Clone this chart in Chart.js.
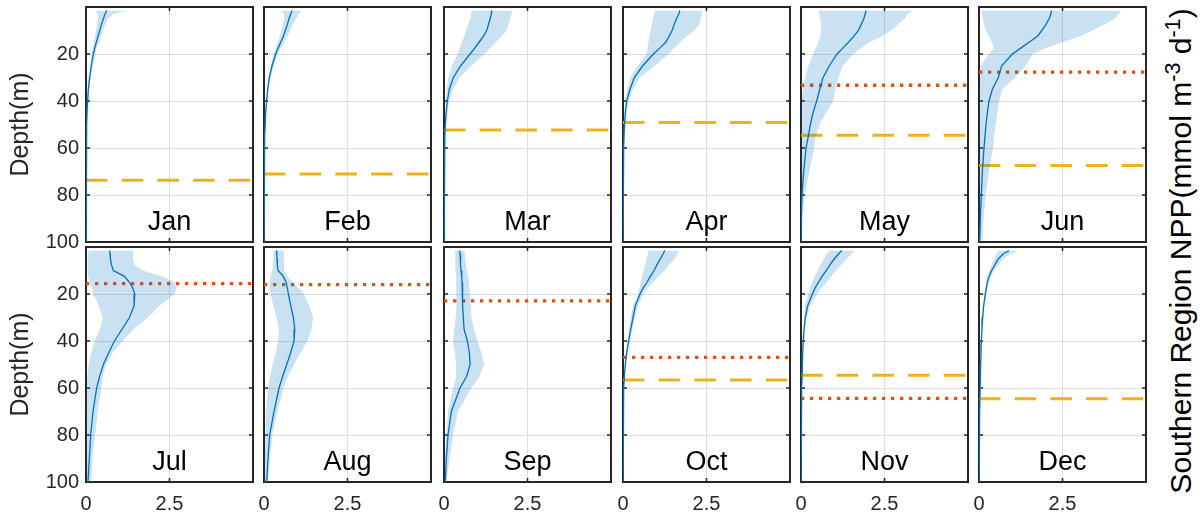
<!DOCTYPE html>
<html>
<head>
<meta charset="utf-8">
<script src="https://cdn.jsdelivr.net/npm/chart.js@4"></script>
<style>
  html, body { margin: 0; padding: 0; background: #fff; }
  #wrap { position: relative; width: 1204px; height: 520px; overflow: hidden; }
  #wrap canvas { position: absolute; }
  #rtitle {
    position: absolute; left: 1179px; top: 251px;
    transform: translate(-50%, -50%) rotate(-90deg);
    white-space: nowrap; font: 30px "Liberation Sans", Arial, sans-serif; color: #000;
  }
  #rtitle sup { font-size: 0.72em; }
</style>
</head>
<body>
<div id="wrap">
  <div id="rtitle">Southern Region NPP(mmol m<sup>-3</sup> d<sup>-1</sup>)</div>
</div>
<script>
const months = ['Jan', 'Feb', 'Mar', 'Apr', 'May', 'Jun', 'Jul', 'Aug', 'Sep', 'Oct', 'Nov', 'Dec'];
const depths = [1.5, 3, 5, 7.5, 10, 12.5, 15, 17.5, 20, 25, 30, 35, 40, 45, 50, 55, 60, 70, 80, 90, 100];

// mean profile and shaded range for each month (mmol m-3 d-1)
const janMean = [0.62, 0.57, 0.52, 0.46, 0.41, 0.36, 0.31, 0.26, 0.22, 0.16, 0.11, 0.07, 0.05, 0.03, 0.02, 0.015, 0.01, 0.005, 0.003, 0.002, 0.001];
const janLow  = [0.28, 0.36, 0.36, 0.33, 0.3, 0.27, 0.23, 0.2, 0.17, 0.12, 0.08, 0.05, 0.03, 0.02, 0.01, 0.008, 0.005, 0.002, 0.001, 0, 0];
const janHigh = [1.25, 0.82, 0.66, 0.57, 0.5, 0.45, 0.39, 0.32, 0.27, 0.2, 0.14, 0.1, 0.07, 0.045, 0.03, 0.02, 0.015, 0.008, 0.005, 0.003, 0.002];

const febMean = [0.84, 0.8, 0.75, 0.7, 0.64, 0.58, 0.5, 0.42, 0.35, 0.24, 0.16, 0.11, 0.08, 0.05, 0.035, 0.02, 0.012, 0.005, 0.002, 0.001, 0];
const febLow  = [0.5, 0.6, 0.6, 0.56, 0.52, 0.47, 0.41, 0.35, 0.29, 0.2, 0.13, 0.09, 0.06, 0.04, 0.025, 0.015, 0.008, 0.003, 0.001, 0, 0];
const febHigh = [1.12, 1.05, 0.95, 0.86, 0.78, 0.7, 0.6, 0.5, 0.42, 0.29, 0.2, 0.14, 0.1, 0.065, 0.045, 0.03, 0.018, 0.008, 0.004, 0.002, 0.001];

const marMean = [1.43, 1.42, 1.38, 1.33, 1.28, 1.18, 1.05, 0.92, 0.78, 0.5, 0.28, 0.16, 0.1, 0.065, 0.04, 0.025, 0.015, 0.007, 0.003, 0.001, 0];
const marLow  = [0.83, 0.8, 0.78, 0.72, 0.66, 0.6, 0.53, 0.47, 0.41, 0.24, 0.13, 0.08, 0.05, 0.03, 0.02, 0.01, 0.007, 0.003, 0.001, 0, 0];
const marHigh = [2.05, 2.02, 1.98, 1.93, 1.87, 1.72, 1.55, 1.38, 1.21, 0.82, 0.47, 0.28, 0.16, 0.1, 0.06, 0.04, 0.025, 0.012, 0.005, 0.002, 0.001];

const aprMean = [1.7, 1.67, 1.6, 1.53, 1.47, 1.38, 1.28, 1.1, 0.91, 0.59, 0.34, 0.21, 0.11, 0.07, 0.045, 0.03, 0.02, 0.008, 0.003, 0.001, 0];
const aprLow  = [0.96, 0.94, 0.9, 0.86, 0.82, 0.79, 0.76, 0.73, 0.7, 0.44, 0.22, 0.13, 0.07, 0.045, 0.03, 0.018, 0.01, 0.004, 0.001, 0, 0];
const aprHigh = [2.38, 2.36, 2.33, 2.28, 2.12, 1.9, 1.72, 1.53, 1.36, 0.95, 0.5, 0.3, 0.17, 0.11, 0.07, 0.045, 0.03, 0.012, 0.005, 0.002, 0.001];

const mayMean = [1.95, 1.92, 1.88, 1.8, 1.72, 1.58, 1.42, 1.25, 1.08, 0.85, 0.66, 0.56, 0.47, 0.36, 0.28, 0.22, 0.15, 0.08, 0.03, 0.01, 0.005];
const mayLow  = [0.52, 0.55, 0.58, 0.6, 0.62, 0.58, 0.52, 0.44, 0.37, 0.22, 0.12, 0.06, 0.02, 0.01, 0.005, 0, 0, 0, 0, 0, 0];
const mayHigh = [3.32, 3.2, 3.1, 2.9, 2.7, 2.4, 2.05, 1.8, 1.56, 1.25, 1.12, 1.03, 0.96, 0.75, 0.55, 0.44, 0.39, 0.25, 0.1, 0.05, 0.02];

const junMean = [2.17, 2.15, 2.1, 2.0, 1.88, 1.75, 1.5, 1.25, 1.0, 0.68, 0.58, 0.4, 0.3, 0.25, 0.21, 0.18, 0.15, 0.1, 0.07, 0.04, 0.02];
const junLow  = [0.05, 0.08, 0.12, 0.15, 0.2, 0.3, 0.38, 0.45, 0.3, 0.05, 0.03, 0.02, 0.01, 0.01, 0, 0, 0, 0, 0, 0, 0];
const junHigh = [4.24, 4.2, 4.05, 3.75, 3.4, 3.0, 2.5, 2.0, 1.6, 1.4, 1.08, 0.7, 0.6, 0.55, 0.5, 0.45, 0.42, 0.3, 0.2, 0.14, 0.1];

const julMean = [0.71, 0.72, 0.73, 0.76, 0.82, 1.15, 1.3, 1.4, 1.46, 1.44, 1.3, 1.08, 0.85, 0.68, 0.52, 0.41, 0.32, 0.21, 0.14, 0.1, 0.06];
const julLow  = [0.07, 0.06, 0.05, 0.05, 0.04, 0.06, 0.12, 0.18, 0.22, 0.38, 0.5, 0.42, 0.26, 0.15, 0.08, 0.04, 0.02, 0.01, 0.01, 0, 0];
const julHigh = [1.41, 1.41, 1.41, 1.45, 1.7, 2.3, 2.65, 2.72, 2.65, 2.2, 1.85, 1.42, 1.1, 0.8, 0.6, 0.5, 0.46, 0.35, 0.27, 0.2, 0.15];

const augMean = [0.38, 0.38, 0.39, 0.4, 0.42, 0.58, 0.66, 0.7, 0.73, 0.8, 0.88, 0.92, 0.9, 0.8, 0.68, 0.56, 0.45, 0.3, 0.17, 0.12, 0.08];
const augLow  = [0.28, 0.28, 0.27, 0.26, 0.24, 0.2, 0.16, 0.15, 0.2, 0.28, 0.38, 0.45, 0.42, 0.35, 0.26, 0.18, 0.12, 0.06, 0.04, 0.02, 0.01];
const augHigh = [0.6, 0.6, 0.6, 0.6, 0.62, 0.7, 0.85, 1.05, 1.2, 1.35, 1.47, 1.42, 1.3, 1.1, 0.9, 0.72, 0.58, 0.4, 0.25, 0.18, 0.12];

const sepMean = [0.47, 0.48, 0.49, 0.5, 0.51, 0.53, 0.54, 0.55, 0.56, 0.56, 0.58, 0.6, 0.7, 0.76, 0.78, 0.68, 0.48, 0.22, 0.12, 0.07, 0.04];
const sepLow  = [0.32, 0.33, 0.34, 0.35, 0.35, 0.36, 0.36, 0.37, 0.37, 0.37, 0.35, 0.3, 0.27, 0.33, 0.36, 0.37, 0.27, 0.12, 0.07, 0.03, 0.01];
const sepHigh = [0.62, 0.62, 0.64, 0.66, 0.68, 0.72, 0.75, 0.76, 0.78, 0.8, 0.82, 0.9, 1.0, 1.12, 1.2, 1.07, 0.82, 0.42, 0.27, 0.17, 0.07];

const octMean = [1.25, 1.2, 1.12, 1.02, 0.93, 0.82, 0.72, 0.6, 0.51, 0.37, 0.3, 0.23, 0.17, 0.11, 0.07, 0.04, 0.02, 0.01, 0.005, 0.002, 0.001];
const octLow  = [0.76, 0.74, 0.71, 0.66, 0.62, 0.57, 0.53, 0.49, 0.45, 0.3, 0.24, 0.18, 0.13, 0.08, 0.05, 0.03, 0.015, 0.007, 0.003, 0.001, 0];
const octHigh = [1.68, 1.62, 1.55, 1.38, 1.25, 1.05, 0.9, 0.72, 0.6, 0.45, 0.36, 0.28, 0.21, 0.14, 0.09, 0.05, 0.03, 0.012, 0.006, 0.003, 0.001];

const novMean = [1.22, 1.12, 1.0, 0.87, 0.76, 0.63, 0.52, 0.42, 0.34, 0.2, 0.13, 0.09, 0.07, 0.05, 0.04, 0.03, 0.02, 0.01, 0.005, 0.002, 0.001];
const novLow  = [0.85, 0.78, 0.68, 0.58, 0.5, 0.4, 0.33, 0.27, 0.22, 0.12, 0.08, 0.06, 0.045, 0.035, 0.025, 0.018, 0.012, 0.006, 0.003, 0.001, 0];
const novHigh = [1.6, 1.5, 1.38, 1.2, 1.05, 0.9, 0.77, 0.6, 0.48, 0.28, 0.18, 0.12, 0.09, 0.065, 0.05, 0.035, 0.025, 0.012, 0.006, 0.003, 0.001];

const decMean = [0.9, 0.72, 0.58, 0.48, 0.38, 0.3, 0.25, 0.22, 0.19, 0.14, 0.11, 0.09, 0.07, 0.06, 0.05, 0.04, 0.03, 0.02, 0.01, 0.005, 0.002];
const decLow  = [0.6, 0.52, 0.45, 0.38, 0.31, 0.25, 0.21, 0.18, 0.16, 0.12, 0.09, 0.075, 0.06, 0.05, 0.04, 0.03, 0.02, 0.015, 0.008, 0.004, 0.001];
const decHigh = [1.2, 0.95, 0.72, 0.58, 0.45, 0.36, 0.3, 0.26, 0.22, 0.16, 0.13, 0.1, 0.08, 0.065, 0.055, 0.045, 0.035, 0.022, 0.012, 0.006, 0.003];

// horizontal reference depths (m), null = not drawn
const dottedDepth = [null, null, null, null, 33.3, 27.7, 15.6, 16.0, 22.9, 47.0, 64.4, null];
const dashedDepth = [73.7, 71.1, 52.3, 49.1, 54.6, 67.4, null, null, null, 56.6, 54.6, 64.6];

const xTicks = [0, 2.5, 5];
const yTicks = [0, 20, 40, 60, 80, 100];

const profiles = [
  [janMean, janLow, janHigh], [febMean, febLow, febHigh], [marMean, marLow, marHigh],
  [aprMean, aprLow, aprHigh], [mayMean, mayLow, mayHigh], [junMean, junLow, junHigh],
  [julMean, julLow, julHigh], [augMean, augLow, augHigh], [sepMean, sepLow, sepHigh],
  [octMean, octLow, octHigh], [novMean, novLow, novHigh], [decMean, decLow, decHigh]
];

Chart.defaults.font.family = '"Liberation Sans", Arial, Helvetica, sans-serif';
Chart.defaults.color = '#262626';

// box, inner tick marks and the month name inside each panel
const panelDeco = {
  id: 'panelDeco',
  beforeDatasetsDraw(chart) {
    const { ctx, chartArea: a, scales: { x, y } } = chart;
    ctx.save();
    ctx.strokeStyle = '#262626';
    ctx.lineWidth = 1.5;
    ctx.beginPath();
    yTicks.slice(1, -1).forEach(v => {
      const py = y.getPixelForValue(v);
      ctx.moveTo(a.left, py); ctx.lineTo(a.left + 4, py);
      ctx.moveTo(a.right, py); ctx.lineTo(a.right - 4, py);
    });
    const px = x.getPixelForValue(xTicks[1]);
    ctx.moveTo(px, a.top); ctx.lineTo(px, a.top + 4);
    ctx.moveTo(px, a.bottom); ctx.lineTo(px, a.bottom - 4);
    ctx.stroke();
    ctx.lineWidth = 2;
    ctx.strokeRect(a.left, a.top, a.right - a.left, a.bottom - a.top);
    ctx.restore();
  },
  afterDatasetsDraw(chart, args, opts) {
    const { ctx, chartArea: a } = chart;
    ctx.save();
    ctx.fillStyle = '#000';
    ctx.font = '27px "Liberation Sans", Arial, sans-serif';
    ctx.textAlign = 'center';
    ctx.textBaseline = 'alphabetic';
    ctx.fillText(opts.label, (a.left + a.right) / 2, a.bottom - 12);
    ctx.restore();
  }
};

const wrap = document.getElementById('wrap');
const panelW = 167, panelH = 235;
const colLeft = [86, 264, 444, 623, 801, 979];
const rowTop = [7, 247];

const toPoints = vals => vals.map((v, k) => ({ x: v, y: depths[k] }));
const hLine = d => [{ x: 0, y: d }, { x: 5, y: d }];

months.forEach((month, i) => {
  const r = Math.floor(i / 6), c = i % 6;
  const L = c === 0 ? 86 : 30, T = 24, R = 12, B = r === 1 ? 42 : 24;
  const canvas = document.createElement('canvas');
  canvas.width = panelW + L + R;
  canvas.height = panelH + T + B;
  canvas.style.left = (colLeft[c] - L) + 'px';
  canvas.style.top = (rowTop[r] - T) + 'px';
  wrap.appendChild(canvas);

  const [mean, low, high] = profiles[i];
  const datasets = [
    { data: toPoints(low), borderWidth: 0, pointRadius: 0, fill: false },
    { data: toPoints(high), borderWidth: 0, pointRadius: 0, fill: '-1', backgroundColor: 'rgba(0,114,189,0.21)' },
    { data: toPoints(mean), borderColor: '#0072BD', borderWidth: 1.3, pointRadius: 0, fill: false }
  ];
  if (dottedDepth[i] != null) {
    datasets.push({ data: hLine(dottedDepth[i]), borderColor: '#D95319', borderWidth: 3.3, borderDash: [3.3, 5.7], pointRadius: 0, fill: false });
  }
  if (dashedDepth[i] != null) {
    datasets.push({ data: hLine(dashedDepth[i]), borderColor: '#EDB120', borderWidth: 3, borderDash: [21.5, 14.2], pointRadius: 0, fill: false });
  }

  new Chart(canvas, {
    type: 'line',
    data: { datasets },
    options: {
      responsive: false,
      animation: false,
      indexAxis: 'y',
      layout: { padding: { top: T, right: R, left: 0, bottom: 0 } },
      plugins: {
        legend: { display: false },
        tooltip: { enabled: false },
        panelDeco: { label: month }
      },
      scales: {
        x: {
          type: 'linear', position: 'bottom', min: 0, max: 5,
          grid: { color: '#dcdcdc', drawTicks: false },
          border: { display: false },
          ticks: {
            display: r === 1, stepSize: 2.5, autoSkip: false, maxRotation: 0, padding: 10,
            font: { size: 20 }, color: '#262626',
            callback: v => (v === 5 ? '' : String(v))
          },
          afterFit: s => { s.height = B; }
        },
        y: {
          type: 'linear', position: 'left', min: 0, max: 100, reverse: true,
          grid: { color: '#dcdcdc', drawTicks: false },
          border: { display: false },
          ticks: {
            display: c === 0, stepSize: 20, autoSkip: false, padding: 7,
            font: { size: 20 }, color: '#262626',
            callback: v => (v === 0 ? '' : String(v))
          },
          title: {
            display: c === 0, text: 'Depth(m)', color: '#262626',
            font: { size: 25 }, padding: { top: 6, bottom: 0 }
          },
          afterFit: s => { s.width = L; }
        }
      }
    },
    plugins: [panelDeco]
  });
});
</script>
</body>
</html>
